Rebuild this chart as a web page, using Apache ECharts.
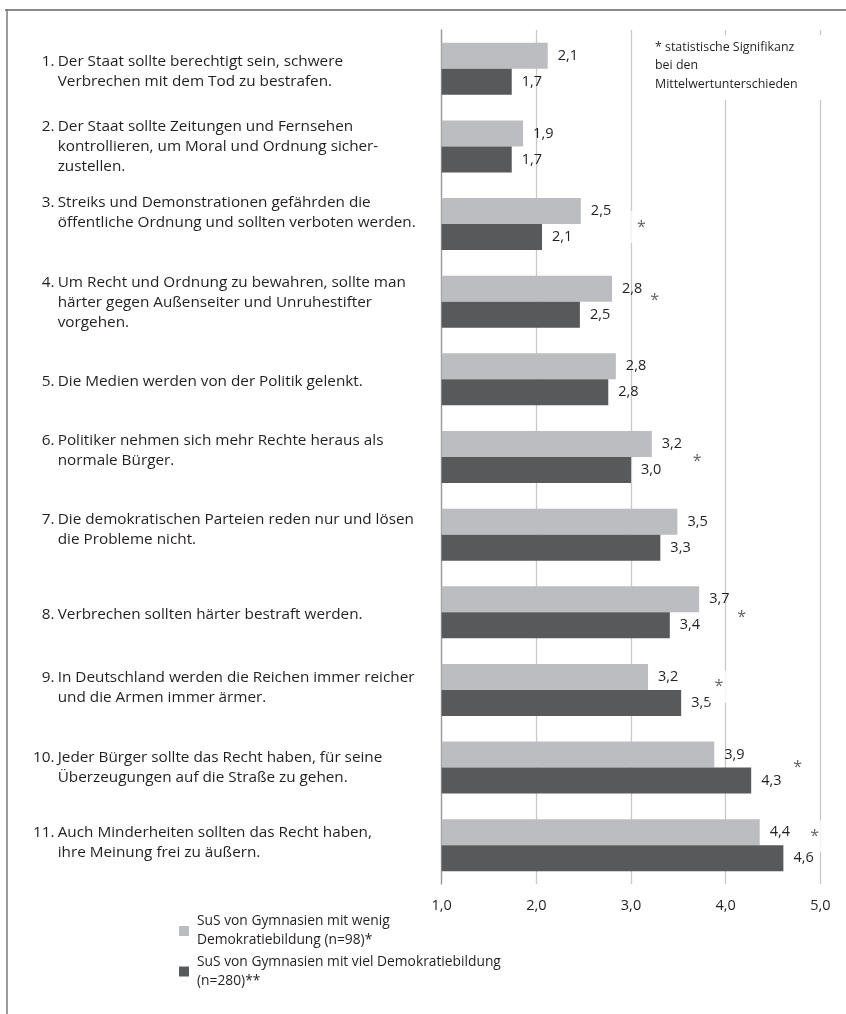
<!DOCTYPE html>
<html>
<head>
<meta charset="utf-8">
<script src="https://cdn.jsdelivr.net/npm/echarts@6/dist/echarts.min.js"></script>
<style>
  html, body { margin: 0; padding: 0; background: #fff; }
  #chart { width: 846px; height: 1014px; }
</style>
</head>
<body>
<div id="chart"></div>
<script>
// ---- data ----
const categories = [
  "1. Der Staat sollte berechtigt sein, schwere\nVerbrechen mit dem Tod zu bestrafen.",
  "2. Der Staat sollte Zeitungen und Fernsehen\nkontrollieren, um Moral und Ordnung sicher-\nzustellen.",
  "3. Streiks und Demonstrationen gefährden die\nöffentliche Ordnung und sollten verboten werden.",
  "4. Um Recht und Ordnung zu bewahren, sollte man\nhärter gegen Außenseiter und Unruhestifter\nvorgehen.",
  "5. Die Medien werden von der Politik gelenkt.",
  "6. Politiker nehmen sich mehr Rechte heraus als\nnormale Bürger.",
  "7. Die demokratischen Parteien reden nur und lösen\ndie Probleme nicht.",
  "8. Verbrechen sollten härter bestraft werden.",
  "9. In Deutschland werden die Reichen immer reicher\nund die Armen immer ärmer.",
  "10. Jeder Bürger sollte das Recht haben, für seine\nÜberzeugungen auf die Straße zu gehen.",
  "11. Auch Minderheiten sollten das Recht haben,\nihre Meinung frei zu äußern."
];
const seriesNames = [
  "SuS von Gymnasien mit wenig Demokratiebildung (n=98)*",
  "SuS von Gymnasien mit viel Demokratiebildung (n=280)**"
];
const legendLabels = [
  "SuS von Gymnasien mit wenig\nDemokratiebildung (n=98)*",
  "SuS von Gymnasien mit viel Demokratiebildung\n(n=280)**"
];
const wenigValues = [2.12, 1.86, 2.47, 2.80, 2.84, 3.22, 3.49, 3.72, 3.18, 3.88, 4.36];
const vielValues  = [1.74, 1.74, 2.06, 2.46, 2.76, 3.00, 3.31, 3.41, 3.53, 4.27, 4.61];
// significance markers: [x value, category index]
const sigMarkers = [[3.11, 2], [3.25, 3], [3.70, 5], [4.17, 7], [3.93, 8], [4.76, 9], [4.94, 10]];
const sigNote = ["* statistische Signifikanz", "bei den", "Mittelwertunterschieden"];
const xTicks = { min: 1, max: 5, interval: 1 };

// ---- styles ----
const FONT = 'Open Sans';
const TXT = '#231f20';
const LIGHT = '#bcbdc0';
const DARK = '#58595b';
const starOffsets = [3, -1, 4, 5, -3, 0, -9];
const labelShift = [3, 0, -11, 1, 2, -6, -5, 2, -2, 0, -3];
const CAT_SIZE = 15.3;
const VAL_SIZE = 14.5;

const fmtNum = v => v.toFixed(1).replace('.', ',');

function catLabel(s, idx) {
  const lines = s.split('\n');
  const first = lines[0];
  const sp = first.indexOf(' ');
  let num = first.slice(0, sp);
  if (num.length < 3) num = '\u2007' + num;
  const out = ['{n|' + num + '}{t|' + first.slice(sp + 1) + '}'];
  for (let i = 1; i < lines.length; i++) out.push('{n| }{t|' + lines[i] + '}');
  const d = labelShift[idx] || 0;
  const h = Math.abs(2 * d);
  if (d > 0) out.unshift('{s' + h + '| }');
  if (d < 0) out.push('{s' + h + '| }');
  return out.join('\n');
}

const richStyles = {
  n: { width: 24.7, fontFamily: FONT, fontSize: CAT_SIZE, color: TXT, lineHeight: 20 },
  t: { fontFamily: FONT, fontSize: CAT_SIZE, color: TXT, lineHeight: 20 }
};
labelShift.forEach(d => {
  const h = Math.abs(2 * d);
  if (h) richStyles['s' + h] = { fontSize: 1, lineHeight: h };
});

const chart = echarts.init(document.getElementById('chart'), null, { renderer: 'canvas' });

const legendCommon = {
  orient: 'vertical',
  left: 179,
  padding: 0,
  itemWidth: 10,
  itemHeight: 10,
  icon: 'rect',
  selectedMode: false,
  textStyle: { fontFamily: FONT, fontSize: 13.8, color: TXT, lineHeight: 19, padding: [19, 0, 0, 3] }
};

const option = {
  animation: false,
  backgroundColor: '#fff',
  textStyle: { fontFamily: FONT },
  grid: { left: 441.7, right: 25.7, top: 30, bottom: 130, containLabel: false, outerBoundsMode: 'none' },
  legend: [
    Object.assign({}, legendCommon, { top: 902.5, data: [seriesNames[0]], formatter: () => legendLabels[0] }),
    Object.assign({}, legendCommon, { top: 943, data: [seriesNames[1]], formatter: () => legendLabels[1] })
  ],
  xAxis: {
    type: 'value',
    min: xTicks.min, max: xTicks.max, interval: xTicks.interval,
    axisLine: { show: false },
    axisTick: { show: false },
    splitLine: { show: true, lineStyle: { color: '#c8c8c8', width: 1.3 } },
    axisLabel: { margin: 14, fontFamily: FONT, fontSize: 14.5, color: TXT, formatter: v => fmtNum(v) }
  },
  yAxis: {
    type: 'category',
    inverse: true,
    data: categories,
    axisTick: { show: false },
    axisLine: { show: true, lineStyle: { color: '#9a9a9a', width: 1.3 } },
    axisLabel: {
      interval: 0,
      align: 'left',
      margin: 408.7,
      formatter: catLabel,
      rich: richStyles
    }
  },
  series: [
    {
      name: seriesNames[0], type: 'bar', data: wenigValues,
      barWidth: 26, barGap: '0%',
      itemStyle: { color: LIGHT },
      label: { show: true, position: 'right', distance: 10, fontFamily: FONT, fontSize: VAL_SIZE, color: TXT, formatter: p => fmtNum(p.value) }
    },
    {
      name: seriesNames[1], type: 'bar', data: vielValues,
      barWidth: 26, barGap: '0%',
      itemStyle: { color: DARK },
      label: { show: true, position: 'right', distance: 10, fontFamily: FONT, fontSize: VAL_SIZE, color: TXT, formatter: p => fmtNum(p.value) }
    },
    {
      name: 'sig', type: 'scatter', z: 10,
      symbolSize: 1,
      itemStyle: { color: 'rgba(0,0,0,0)' },
      data: sigMarkers.map((m, i) => ({
        value: m,
        label: { offset: [0, starOffsets[i]] }
      })),
      label: {
        show: true, position: 'inside', formatter: '*',
        fontFamily: FONT, fontSize: 16, color: '#3a3a3a',
        backgroundColor: '#fff', padding: [12, 6, 4, 6]
      }
    }
  ],
  graphic: [
    { type: 'line', shape: { x1: 5, y1: 10, x2: 846, y2: 10 }, style: { stroke: '#8a8a8a', lineWidth: 2 }, z: 100 },
    { type: 'line', shape: { x1: 7, y1: 9, x2: 7, y2: 1014 }, style: { stroke: '#7a7a7a', lineWidth: 1.5 }, z: 100 },
    { type: 'rect', shape: { x: 640, y: 35, width: 195, height: 65 }, style: { fill: '#fff' }, z: 100 },
    {
      type: 'text', x: 655, y: 38, z: 101,
      style: { text: sigNote.join('\n'), font: '12.4px "Open Sans"', fill: TXT, lineHeight: 18.5 }
    }
  ]
};
chart.setOption(option);
</script>
</body>
</html>
